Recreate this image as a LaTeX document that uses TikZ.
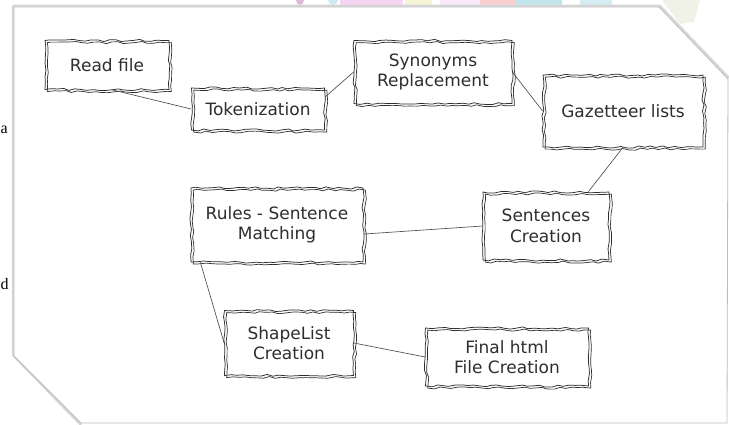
\documentclass[tikz,border=0pt]{standalone}
\usepackage{fontspec}
\newfontfamily\sketchfont{DejaVu Sans}
\newfontfamily\cutfont{Liberation Serif}
\usetikzlibrary{decorations.pathmorphing}

\definecolor{inkgray}{HTML}{2E2E2E}
\definecolor{edgegray}{HTML}{BDBDBD}
\definecolor{blobpink}{HTML}{F2C4EE}
\definecolor{blobrose}{HTML}{F3AFAF}
\definecolor{blobcyan}{HTML}{A9DCE8}
\definecolor{blobyellow}{HTML}{F4EEC4}
\definecolor{blobmauve}{HTML}{C98BC6}
\definecolor{cornerpale}{HTML}{E9EAD6}

\tikzset{
  sketch/.style={font=\sketchfont\fontsize{17}{20.5}\selectfont, text=inkgray,
    align=center, inner sep=0pt, draw=inkgray, line width=0.75pt,
    decorate, decoration={random steps, segment length=6pt, amplitude=1.1pt},
    postaction={draw=inkgray, line width=0.7pt, decorate,
      decoration={random steps, segment length=7pt, amplitude=1.4pt},
      transform canvas={shift={(2.3pt,-2.1pt)}}}},
  link/.style={draw=inkgray!85, line width=0.65pt},
}

\begin{document}
\begin{tikzpicture}[x=1pt, y=-1pt]
\useasboundingbox (0,0) rectangle (729,425);
\fill[white] (0,0) rectangle (729,425);

% coloured strip behind the paper
\fill[blobmauve, opacity=.6] (300,0) ellipse (4 and 5);
\fill[blobcyan, opacity=.6] (333,0) ellipse (5 and 5);
\fill[blobpink, opacity=.7] (340,0) rectangle (403,5);
\fill[blobyellow, opacity=.7] (405,0) rectangle (432,5);
\fill[blobpink, opacity=.35] (440,0) rectangle (480,5);
\fill[blobrose, opacity=.6] (480,0) rectangle (516,5);
\fill[blobcyan, opacity=.7] (516,0) rectangle (562,5);
\fill[blobcyan, opacity=.5] (580,0) rectangle (612,5);
\fill[cornerpale, opacity=.6] (662,0) -- (700,0) -- (694,22) -- (680,24) -- cycle;

% paper with its shadow
\draw[edgegray!60, line width=2.5pt] (13,6) -- (660,6) -- (729,78);
\draw[edgegray!60, line width=2.5pt] (13,6) -- (13,355) -- (81,425);
\filldraw[fill=white, draw=edgegray, line width=0.8pt]
  (14,7) -- (659,7) -- (728,79) -- (727,423) -- (81,423) -- (14,356) -- cycle;

% letters at the left edge
\node[font=\cutfont\fontsize{16}{20}\selectfont, anchor=base west, inner sep=0pt] (cuta) at (0.5,134) {a};
\node[font=\cutfont\fontsize{16}{20}\selectfont, anchor=base west, inner sep=0pt] (cutd) at (0.5,289) {d};

% boxes
\node[sketch, minimum width=124pt, minimum height=49pt] (read) at (107,65) {Read file};
\node[sketch, minimum width=133pt, minimum height=42pt] (token) at (258,109) {Tokenization};
\node[sketch, minimum width=158pt, minimum height=63pt] (synonym) at (433,72) {Synonyms\\Replacement};
\node[sketch, minimum width=160pt, minimum height=72pt] (gazette) at (623,111) {Gazetteer lists};
\node[sketch, minimum width=126pt, minimum height=68pt] (sentence) at (546,226) {Sentences\\Creation};
\node[sketch, minimum width=172pt, minimum height=74pt] (rules) at (277,225) {Rules - Sentence\\Matching};
\node[sketch, minimum width=129pt, minimum height=65pt] (shapelist) at (289,343) {ShapeList\\Creation};
\node[sketch, minimum width=163pt, minimum height=58pt] (finalhtml) at (507,357) {Final html\\File Creation};

% links
\draw[link] (read.-78) -- (token.west);
\draw[link] (token.10) -- (synonym.west);
\draw[link] (synonym.east) -- (gazette.west);
\draw[link] (gazette.south) -- (sentence.39);
\draw[link] (rules.-6) -- (sentence.west);
\draw[link] (rules.206) -- (shapelist.west);
\draw[link] (shapelist.east) -- (finalhtml.west);
\end{tikzpicture}
\end{document}
